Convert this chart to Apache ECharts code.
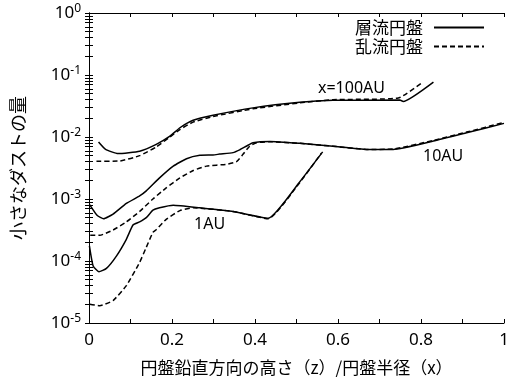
<!DOCTYPE html>
<html>
<head>
<meta charset="utf-8">
<script src="https://cdn.jsdelivr.net/npm/echarts@6/dist/echarts.min.js"></script>
<style>
  html, body { margin: 0; padding: 0; background: #fff; }
  #main { width: 513px; height: 381px; }
</style>
</head>
<body>
<div id="main"></div>
<script>
// x = z / r, y = amount of small dust
var au100Laminar = [[0.023, 8.3e-3], [0.04, 6.3e-3], [0.07, 5.4e-3], [0.122, 5.9e-3], [0.162, 7.6e-3],
    [0.195, 1.03e-2], [0.219, 1.41e-2], [0.251, 1.86e-2], [0.299, 2.24e-2], [0.395, 2.95e-2],
    [0.508, 3.63e-2], [0.588, 3.9e-2], [0.749, 3.94e-2], [0.757, 3.75e-2], [0.83, 7.7e-2]];
var au100Turbulent = [[0.018, 4.05e-3], [0.074, 4.1e-3], [0.122, 5.0e-3], [0.162, 6.9e-3], [0.195, 1.0e-2],
    [0.219, 1.32e-2], [0.251, 1.74e-2], [0.299, 2.14e-2], [0.395, 2.85e-2], [0.508, 3.55e-2],
    [0.588, 4.0e-2], [0.745, 4.25e-2], [0.804, 7.6e-2]];
var au10Laminar = [[0.001, 8.2e-4], [0.02, 5.4e-4], [0.035, 4.8e-4], [0.058, 5.7e-4], [0.09, 8.5e-4],
    [0.122, 1.12e-3], [0.138, 1.35e-3], [0.17, 2.19e-3], [0.203, 3.39e-3], [0.235, 4.47e-3],
    [0.267, 5.06e-3], [0.299, 5.13e-3], [0.315, 5.3e-3], [0.347, 5.6e-3], [0.363, 6.2e-3],
    [0.379, 7.1e-3], [0.395, 8.1e-3], [0.436, 8.5e-3], [0.508, 7.9e-3], [0.588, 7.1e-3],
    [0.669, 6.3e-3], [0.733, 6.3e-3], [0.83, 8.6e-3], [0.91, 1.17e-2], [1.0, 1.66e-2]];
var au10Turbulent = [[0.003, 2.6e-4], [0.026, 2.6e-4], [0.058, 3.16e-4], [0.09, 4.27e-4], [0.122, 6.3e-4],
    [0.154, 1.0e-3], [0.186, 1.51e-3], [0.219, 2.19e-3], [0.251, 2.88e-3], [0.283, 3.39e-3],
    [0.331, 3.63e-3], [0.355, 3.98e-3], [0.371, 5.25e-3], [0.387, 7.1e-3], [0.404, 8.1e-3],
    [0.436, 8.4e-3], [0.508, 7.9e-3], [0.588, 7.1e-3], [0.669, 6.3e-3], [0.733, 6.4e-3],
    [0.83, 8.8e-3], [0.91, 1.2e-2], [1.0, 1.72e-2]];
var au1Laminar = [[0.001, 1.76e-4], [0.01, 8.3e-5], [0.024, 6.7e-5], [0.042, 7.6e-5], [0.066, 1.2e-4],
    [0.09, 2.24e-4], [0.106, 3.8e-4], [0.122, 4.27e-4], [0.138, 5.0e-4], [0.154, 6.6e-4],
    [0.17, 7.2e-4], [0.203, 7.9e-4], [0.267, 7.2e-4], [0.347, 6.3e-4], [0.432, 4.9e-4],
    [0.508, 1.9e-3], [0.563, 5.75e-3]];
var au1Turbulent = [[0.002, 2.0e-5], [0.026, 1.9e-5], [0.058, 2.3e-5], [0.09, 4.0e-5], [0.122, 9.5e-5],
    [0.138, 1.66e-4], [0.154, 2.9e-4], [0.162, 3.2e-4], [0.186, 4.7e-4], [0.219, 6.5e-4],
    [0.251, 7.2e-4], [0.347, 6.3e-4], [0.432, 4.8e-4], [0.508, 1.85e-3], [0.56, 5.5e-3]];

var legendNames = ['層流円盤', '乱流円盤'];
var decades = [1e-5, 1e-4, 1e-3, 1e-2, 1e-1, 1];
var curveLabels = [
    { text: 'x=100AU', left: 318, top: 80 },
    { text: '10AU', left: 423, top: 148 },
    { text: '1AU', left: 194, top: 216 }
];

var logTicks = [];
decades.forEach(function (d) {
    for (var k = 1; k <= 9; k++) {
        if (d * k <= 1) logTicks.push(d * k);
    }
});

var chart = echarts.init(document.getElementById('main'));

function makeLine(name, data, dashed) {
    return {
        name: name,
        type: 'line',
        data: data,
        showSymbol: false,
        symbol: 'none',
        smooth: 0.15,
        silent: true,
        lineStyle: {
            color: '#000',
            width: 1.5,
            type: dashed ? [5, 3] : 'solid'
        },
        itemStyle: { color: '#000' }
    };
}

var tickStyle = { inside: true, length: 4, lineStyle: { color: '#000', width: 1 } };

var option = {
    animation: false,
    backgroundColor: '#fff',
    grid: { left: 89, right: 9, top: 13, bottom: 57 },
    legend: {
        data: legendNames,
        orient: 'vertical',
        right: 28,
        top: 19,
        align: 'right',
        itemWidth: 50,
        itemHeight: 14,
        itemGap: 2,
        padding: 0,
        itemStyle: { opacity: 0 },
        textStyle: { fontSize: 17, color: '#000', fontFamily: 'Noto Sans CJK JP', padding: [0, 6, 0, 0] }
    },
    xAxis: [{
        type: 'value',
        min: 0,
        max: 1,
        interval: 0.2,
        name: '円盤鉛直方向の高さ（z）/円盤半径（x）',
        nameLocation: 'middle',
        nameGap: 36,
        nameTextStyle: { fontSize: 17, color: '#000', fontFamily: 'Noto Sans CJK JP' },
        axisLine: { lineStyle: { color: '#000', width: 1 } },
        axisTick: tickStyle,
        minorTick: { show: true, splitNumber: 2, length: 4, lineStyle: { color: '#000' } },
        splitLine: { show: false },
        axisLabel: { fontSize: 17, color: '#000', fontFamily: 'Noto Sans', margin: 9,
            formatter: function (v) { return String(v); } }
    }, {
        type: 'value',
        position: 'top',
        min: 0,
        max: 1,
        interval: 0.2,
        axisLine: { lineStyle: { color: '#000', width: 1 } },
        axisTick: tickStyle,
        minorTick: { show: true, splitNumber: 2, length: 4, lineStyle: { color: '#000' } },
        splitLine: { show: false },
        axisLabel: { show: false }
    }],
    yAxis: [{
        type: 'log',
        min: 1e-5,
        max: 1,
        logBase: 10,
        name: '小さなダストの量',
        nameLocation: 'middle',
        nameGap: 62,
        nameTextStyle: { fontSize: 18, color: '#000', fontFamily: 'Noto Sans CJK JP' },
        axisLine: { lineStyle: { color: '#000', width: 1 } },
        axisTick: Object.assign({ customValues: logTicks }, tickStyle),
        splitLine: { show: false },
        axisLabel: {
            customValues: decades,
            margin: 8,
            formatter: function (v) {
                var e = Math.round(Math.log10(v));
                return '{b|10}{s|' + e + '}';
            },
            rich: {
                b: { fontSize: 17, color: '#000', fontFamily: 'Noto Sans' },
                s: { fontSize: 12, color: '#000', fontFamily: 'Noto Sans', padding: [0, 0, 9, 0] }
            }
        }
    }, {
        type: 'log',
        position: 'right',
        min: 1e-5,
        max: 1,
        logBase: 10,
        axisLine: { lineStyle: { color: '#000', width: 1 } },
        axisTick: Object.assign({ customValues: logTicks }, tickStyle),
        splitLine: { show: false },
        axisLabel: { show: false }
    }],
    graphic: curveLabels.map(function (c) {
        return {
            type: 'text',
            left: c.left,
            top: c.top,
            style: { text: c.text, fontSize: 16, fill: '#000', fontFamily: 'Noto Sans' }
        };
    }),
    series: [
        makeLine(legendNames[0], au100Laminar, false),
        makeLine(legendNames[1], au100Turbulent, true),
        makeLine(legendNames[0], au10Laminar, false),
        makeLine(legendNames[1], au10Turbulent, true),
        makeLine(legendNames[0], au1Laminar, false),
        makeLine(legendNames[1], au1Turbulent, true)
    ]
};

chart.setOption(option);
</script>
</body>
</html>
